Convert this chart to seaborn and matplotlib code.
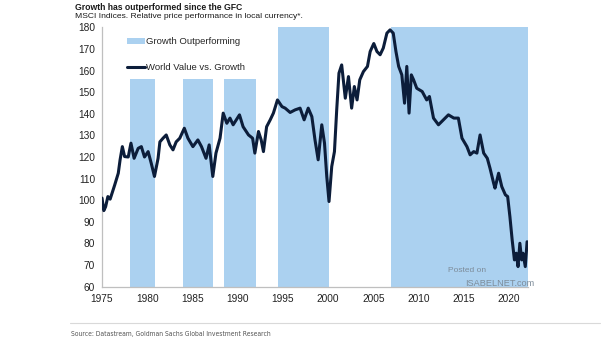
import matplotlib
matplotlib.use("Agg")
import matplotlib.pyplot as plt
from matplotlib.patches import Patch
from matplotlib.lines import Line2D
import seaborn as sns
import pandas as pd

# Relative price index: MSCI World Value vs. Growth
years = [
    1975.0, 1975.2, 1975.4, 1975.65, 1975.9, 1976.4, 1976.8, 1977.0, 1977.25, 1977.5,
    1977.9, 1978.2, 1978.55, 1979.0, 1979.35, 1979.7, 1980.1, 1980.45, 1980.8, 1981.2,
    1981.4, 1981.75, 1982.1, 1982.5, 1982.85, 1983.2, 1983.6, 1984.1, 1984.5, 1985.05,
    1985.6, 1986.0, 1986.5, 1986.85, 1987.25, 1987.6, 1988.05, 1988.4, 1988.8, 1989.15,
    1989.5, 1990.2, 1990.6, 1991.2, 1991.65, 1991.9, 1992.3, 1992.6, 1992.85, 1993.2,
    1993.6, 1993.95, 1994.4, 1994.9, 1995.25, 1995.8, 1996.35, 1996.9, 1997.35, 1997.8,
    1998.2, 1998.55, 1998.9, 1999.3, 1999.6, 1999.85, 2000.1, 2000.4, 2000.7, 2000.95,
    2001.2, 2001.5, 2001.9, 2002.25, 2002.6, 2002.9, 2003.2, 2003.5, 2003.9, 2004.35,
    2004.65, 2005.05, 2005.4, 2005.75, 2006.1, 2006.5, 2006.85, 2007.2, 2007.5, 2007.8,
    2008.15, 2008.45, 2008.7, 2008.95, 2009.2, 2009.45, 2009.8, 2010.4, 2010.9, 2011.2,
    2011.65, 2012.2, 2012.75, 2013.3, 2013.9, 2014.4, 2014.8, 2015.35, 2015.7, 2016.1,
    2016.45, 2016.8, 2017.2, 2017.6, 2017.9, 2018.3, 2018.45, 2018.85, 2019.2, 2019.6,
    2019.85, 2020.1, 2020.35, 2020.6, 2020.8, 2021.0, 2021.2, 2021.4, 2021.55, 2021.8,
    2022.0,
]
value_vs_growth = [
    101, 95.2, 97, 101.7, 100.5, 107, 112.5, 118.7, 124.8, 120.2,
    120, 126.4, 119.4, 124, 124.8, 120, 122.5, 117, 111, 119.4,
    127, 128.7, 130.2, 125.6, 123.3, 127, 128.7, 133.3, 128.7, 124.8,
    127.9, 124.8, 119.4, 125.6, 111, 121.8, 128.7, 140.3, 135.6, 138,
    134.9, 139.5, 134, 130.2, 128.7, 121.8, 131.8, 127.9, 122.5, 134,
    137.2, 140.3, 146.4, 143.3, 142.6, 140.6, 141.8, 142.6, 137.2, 142.6,
    138.7, 127.9, 118.7, 134.9, 126.4, 111, 99.4, 115.6, 122.5, 141.8,
    158.8, 162.6, 147.2, 157.2, 142.6, 152.6, 146.4, 155.7, 159.5, 161.9,
    168.8, 172.5, 168.8, 167.3, 170.4, 177.3, 178.8, 177.3, 168.8, 161.9,
    158, 144.9, 161.9, 140.3, 158, 155.7, 151.8, 150.3, 146.4, 148,
    138, 134.9, 137.2, 139.5, 138, 138, 128.7, 124.8, 121, 122.5,
    121.8, 130.2, 121.8, 119.4, 114.8, 107.9, 105.6, 112.5, 106.3, 102.5,
    101.7, 92.4, 81.6, 72.4, 75.5, 69.3, 80.1, 72.4, 75.5, 69.3,
    80.8,
]

# Periods of growth outperformance
shade_start = [1978.1, 1984.0, 1988.5, 1994.5, 2006.9]
shade_end = [1980.9, 1987.3, 1992.0, 2000.1, 2022.1]
shade_top = [156, 156, 156, 180, 180]

x_ticks = [1975, 1980, 1985, 1990, 1995, 2000, 2005, 2010, 2015, 2020]
y_ticks = [60, 70, 80, 90, 100, 110, 120, 130, 140, 150, 160, 170, 180]

title = "Growth has outperformed since the GFC"
subtitle = "MSCI Indices. Relative price performance in local currency*."
source = "Source: Datastream, Goldman Sachs Global Investment Research"

SHADE = "#abd1f0"
LINE = "#0c1d3a"
AXIS = "#bfbfbf"

sns.set_style("white")
plt.rcParams["font.family"] = ["Liberation Sans", "DejaVu Sans"]

fig = plt.figure(figsize=(6.05, 3.41), dpi=100)
ax = fig.add_axes([102 / 605, 1 - 286.7 / 341, 426 / 605, 259.4 / 341])

y_base = y_ticks[0]
ax.bar(shade_start, [t - y_base for t in shade_top],
       width=[e - s for s, e in zip(shade_start, shade_end)],
       bottom=y_base, align="edge", color=SHADE, linewidth=0, zorder=1)

df = pd.DataFrame({"year": years, "value": value_vs_growth})
sns.lineplot(data=df, x="year", y="value", ax=ax, color=LINE,
             linewidth=2.2, zorder=3)

ax.set_xlim(1975, 2022.1)
ax.set_ylim(60, 180)
ax.set_xticks(x_ticks)
ax.set_yticks(y_ticks)
ax.set_xlabel("")
ax.set_ylabel("")
ax.tick_params(axis="both", labelsize=7.3, colors="#222222",
               length=3, width=0.8, direction="out", pad=2)
ax.tick_params(axis="both", color=AXIS)
for side in ("top", "right"):
    ax.spines[side].set_visible(False)
for side in ("left", "bottom"):
    ax.spines[side].set_color(AXIS)
    ax.spines[side].set_linewidth(0.9)

handles = [Patch(facecolor=SHADE, edgecolor="none", label="Growth Outperforming"),
           Line2D([0], [0], color=LINE, linewidth=2.2, label="World Value vs. Growth")]
ax.legend(handles=handles, loc="upper left", bbox_to_anchor=(0.058, 0.962),
          frameon=False, fontsize=6.8, handlelength=1.9, handleheight=0.55,
          handletextpad=0.15, labelspacing=1.75, borderaxespad=0, borderpad=0)

fig.text(75 / 605, 1 - 7 / 341, title, fontsize=6.2, fontweight="bold",
         color="#1a1a1a", va="center", ha="left")
fig.text(75 / 605, 1 - 16 / 341, subtitle, fontsize=6.1,
         color="#1a1a1a", va="center", ha="left")

fig.add_artist(Line2D([70 / 605, 600 / 605], [1 - 323 / 341, 1 - 323 / 341],
                      color="#d9d9d9", linewidth=0.8))
fig.text(71 / 605, 1 - 334 / 341, source, fontsize=4.9, color="#555555",
         va="center", ha="left",
         family=["Liberation Sans Narrow", "DejaVu Sans"], stretch="condensed")

fig.text(467 / 605, 1 - 271 / 341, "Posted on", fontsize=6.0,
         color="#7d8c9a", va="center", ha="center")
fig.text(465 / 605, 1 - 284 / 341, "ISABELNET.com", fontsize=6.6,
         color="#7d8c9a", va="center", ha="left")

fig.savefig("out.png", dpi=100)
